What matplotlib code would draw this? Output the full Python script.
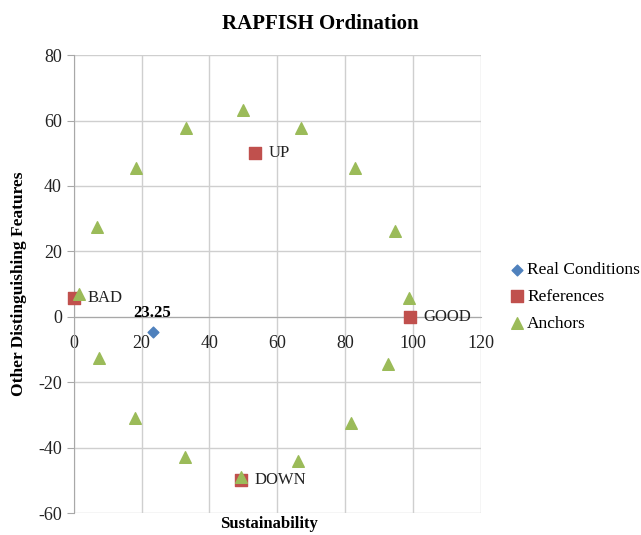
import matplotlib
matplotlib.use('Agg')
import matplotlib.pyplot as plt

plt.rcParams['font.family'] = ['Liberation Serif', 'DejaVu Serif']
plt.rcParams['axes.unicode_minus'] = False

# real conditions
real_x = [23.25]
real_y = [-4.6]

# references
ref_x = [0, 53.5, 99, 49.3]
ref_y = [5.8, 50, 0, -50]
ref_labels = ['BAD', 'UP', 'GOOD', 'DOWN']

# anchors
anc_x = [50, 67, 33, 18.3, 83, 7, 94.7, 1.5, 98.8, 7.4, 92.6, 18, 81.7, 32.7, 66, 49.3]
anc_y = [63.2, 57.7, 57.7, 45.5, 45.5, 27.5, 26.3, 7, 5.8, -12.5, -14.4, -30.8, -32.4, -43, -44, -49]

fig = plt.figure(figsize=(6.41, 5.35), dpi=100)
ax = fig.add_axes([0.115, 0.041, 0.635, 0.856])

ax.scatter(real_x, real_y, marker='D', s=30, color='#4F81BD', label='Real Conditions',
           zorder=3, clip_on=False)
ax.scatter(ref_x, ref_y, marker='s', s=70, color='#C0504D', label='References',
           zorder=3, clip_on=False)
ax.scatter(anc_x, anc_y, marker='^', s=70, color='#9BBB59', label='Anchors',
           zorder=4, clip_on=False)

for x, y, t in zip(ref_x, ref_y, ref_labels):
    ax.annotate(t, (x, y), xytext=(10, 0), textcoords='offset points',
                va='center', ha='left', fontsize=12, color='#222222')
ax.annotate('23.25', (real_x[0], real_y[0]), xytext=(0, 8), textcoords='offset points',
            ha='center', va='bottom', fontsize=12, fontweight='bold')

ax.set_xlim(0, 120)
ax.set_ylim(-60, 80)
ax.set_xticks(range(0, 121, 20))
ax.set_yticks(range(-60, 81, 20))
ax.grid(True, color='#cfcfcf', linewidth=1)
ax.set_axisbelow(True)

for s in ['top', 'right']:
    ax.spines[s].set_visible(False)
ax.spines['left'].set_color('#a8a8a8')
ax.spines['bottom'].set_position(('data', 0))
ax.spines['bottom'].set_color('#a8a8a8')
ax.tick_params(axis='y', colors='#a8a8a8', labelcolor='#222222', labelsize=13, length=5, direction='out')
ax.tick_params(axis='x', length=0, labelsize=13, labelcolor='#222222', pad=13)

ax.set_xlabel('Sustainability', fontsize=12, fontweight='bold')
ax.xaxis.set_label_coords(0.48, -0.006)
ax.xaxis.label.set_va('top')
ax.set_ylabel('Other Distinguishing Features', fontsize=12.5, fontweight='bold')
ax.yaxis.set_label_coords(-0.115, 0.5)

fig.text(0.5, 0.956, 'RAPFISH Ordination', ha='center', va='center', fontsize=15, fontweight='bold')

ax.legend(loc='center left', bbox_to_anchor=(1.05, 0.472), frameon=False, fontsize=12.5,
          handletextpad=0.1, handlelength=1.0, labelspacing=0.6, borderaxespad=0)

fig.savefig('out.png', dpi=100)
